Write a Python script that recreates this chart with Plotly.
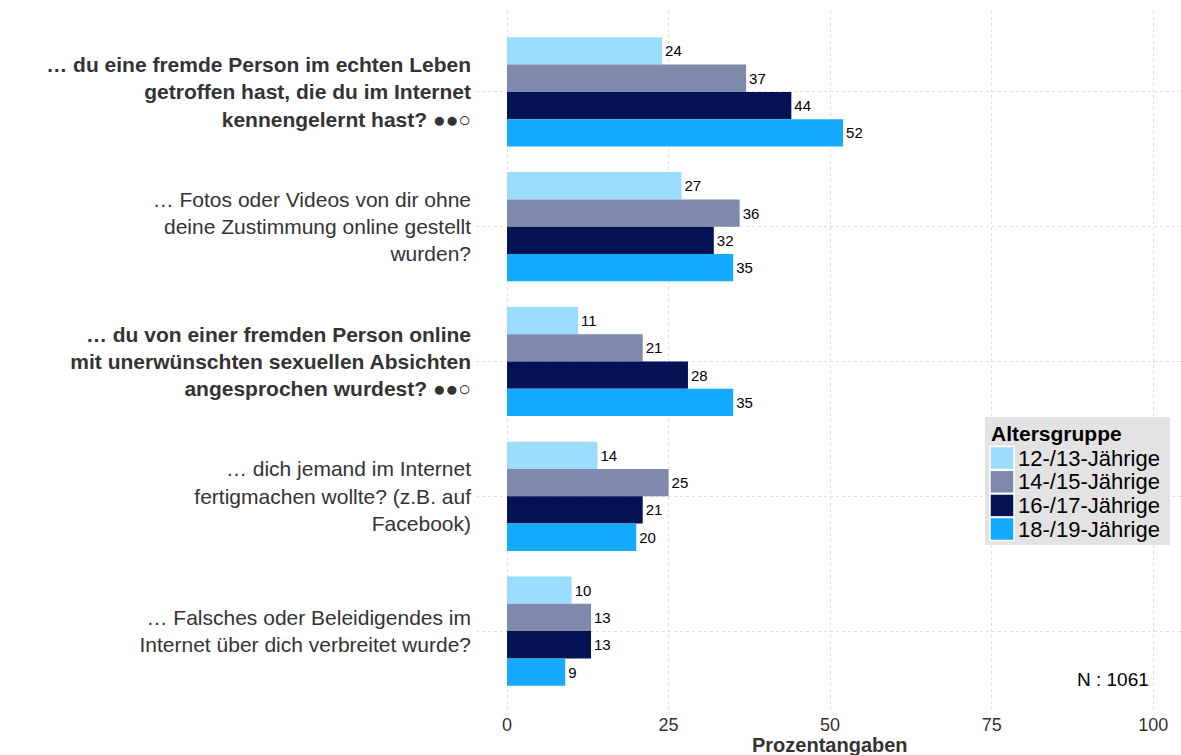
import plotly.graph_objects as go

# Daten
fragen = [
    "<b>… du eine fremde Person im echten Leben<br>getroffen hast, die du im Internet<br>kennengelernt hast? ●●○</b>",
    "… Fotos oder Videos von dir ohne<br>deine Zustimmung online gestellt<br>wurden?",
    "<b>… du von einer fremden Person online<br>mit unerwünschten sexuellen Absichten<br>angesprochen wurdest? ●●○</b>",
    "… dich jemand im Internet<br>fertigmachen wollte? (z.B. auf<br>Facebook)",
    "… Falsches oder Beleidigendes im<br>Internet über dich verbreitet wurde?",
]
gruppen = ["12-/13-Jährige", "14-/15-Jährige", "16-/17-Jährige", "18-/19-Jährige"]
farben = ["#9adcfc", "#7f89ab", "#021254", "#13aaff"]

werte_12_13 = [24, 27, 11, 14, 10]
werte_14_15 = [37, 36, 21, 25, 13]
werte_16_17 = [44, 32, 28, 21, 13]
werte_18_19 = [52, 35, 35, 20, 9]
werte = [werte_12_13, werte_14_15, werte_16_17, werte_18_19]

x_ticks = [0, 25, 50, 75, 100]

W, H = 1181, 755
ML, MR, MT, MB = 476, 0, 11, 43


def px_x(x):
    return (x - ML) / (W - ML - MR)


def px_y(y):
    return 1 - (y - MT) / (H - MT - MB)


fig = go.Figure()

for gruppe, farbe, w in zip(gruppen, farben, werte):
    fig.add_trace(go.Bar(
        y=fragen,
        x=w,
        name=gruppe,
        orientation="h",
        marker=dict(color=farbe, line=dict(width=0)),
        text=[str(v) for v in w],
        textposition="outside",
        textfont=dict(size=15, color="black"),
        cliponaxis=False,
        showlegend=False,
    ))

# Legende von Hand (grössere Farbfelder wie im Original)
shapes = [dict(type="rect", xref="paper", yref="paper",
               x0=px_x(985), x1=px_x(1170), y0=px_y(545), y1=px_y(417),
               fillcolor="#e3e3e3", line=dict(width=0), layer="above")]
annotations = [dict(text="<b>Altersgruppe</b>", xref="paper", yref="paper",
                    x=px_x(989), y=px_y(433), xanchor="left", yanchor="middle",
                    showarrow=False, font=dict(size=21, color="black"))]
for i, (gruppe, farbe) in enumerate(zip(gruppen, farben)):
    yc = 458 + i * 23.7
    shapes.append(dict(type="rect", xref="paper", yref="paper",
                       x0=px_x(990), x1=px_x(1014), y0=px_y(yc + 11.5), y1=px_y(yc - 11.5),
                       fillcolor=farbe, line=dict(color="white", width=1.5), layer="above"))
    annotations.append(dict(text=gruppe, xref="paper", yref="paper",
                            x=px_x(1016), y=px_y(yc), xanchor="left", yanchor="middle",
                            showarrow=False, font=dict(size=22, color="black")))

annotations.append(dict(text="N : 1061", xref="paper", yref="paper",
                        x=px_x(1151), y=px_y(679), xanchor="right", yanchor="middle",
                        showarrow=False, font=dict(size=19, color="black")))

# Achsentitel als Annotation, damit die Position passt
annotations.append(dict(text="<b>Prozentangaben</b>", xref="x", yref="paper",
                        x=50, y=px_y(745), xanchor="center", yanchor="middle",
                        showarrow=False, font=dict(size=20, color="#333333")))

fig.update_layout(
    width=W, height=H,
    margin=dict(l=ML, r=MR, t=MT, b=MB),
    plot_bgcolor="white",
    paper_bgcolor="white",
    font=dict(family="Liberation Sans, Arial, sans-serif", color="#333333"),
    barmode="group",
    bargap=0.19,
    bargroupgap=0,
    shapes=shapes,
    annotations=annotations,
    xaxis=dict(
        range=[-4.8, 104.3],
        tickvals=x_ticks,
        ticktext=[str(t) for t in x_ticks],
        tickfont=dict(size=18, color="#333333"),
        showgrid=True, gridcolor="#e0e0e0", griddash="dot", gridwidth=1,
        zeroline=False, showline=False, ticks="",
        ticklabelstandoff=0,
        automargin=False,
    ),
    yaxis=dict(
        range=[4.6, -0.6],
        tickfont=dict(size=21, color="#333333"),
        showgrid=True, gridcolor="#e0e0e0", griddash="dot", gridwidth=1,
        zeroline=False, showline=False, ticks="",
        ticklabelstandoff=4,
        automargin=False,
    ),
)

# Seitenrand des Browsers entfernen, damit die Grafik bei (0,0) beginnt
fig.write_html("out.html", config={"displayModeBar": False},
               post_script="document.body.style.margin='0';")
